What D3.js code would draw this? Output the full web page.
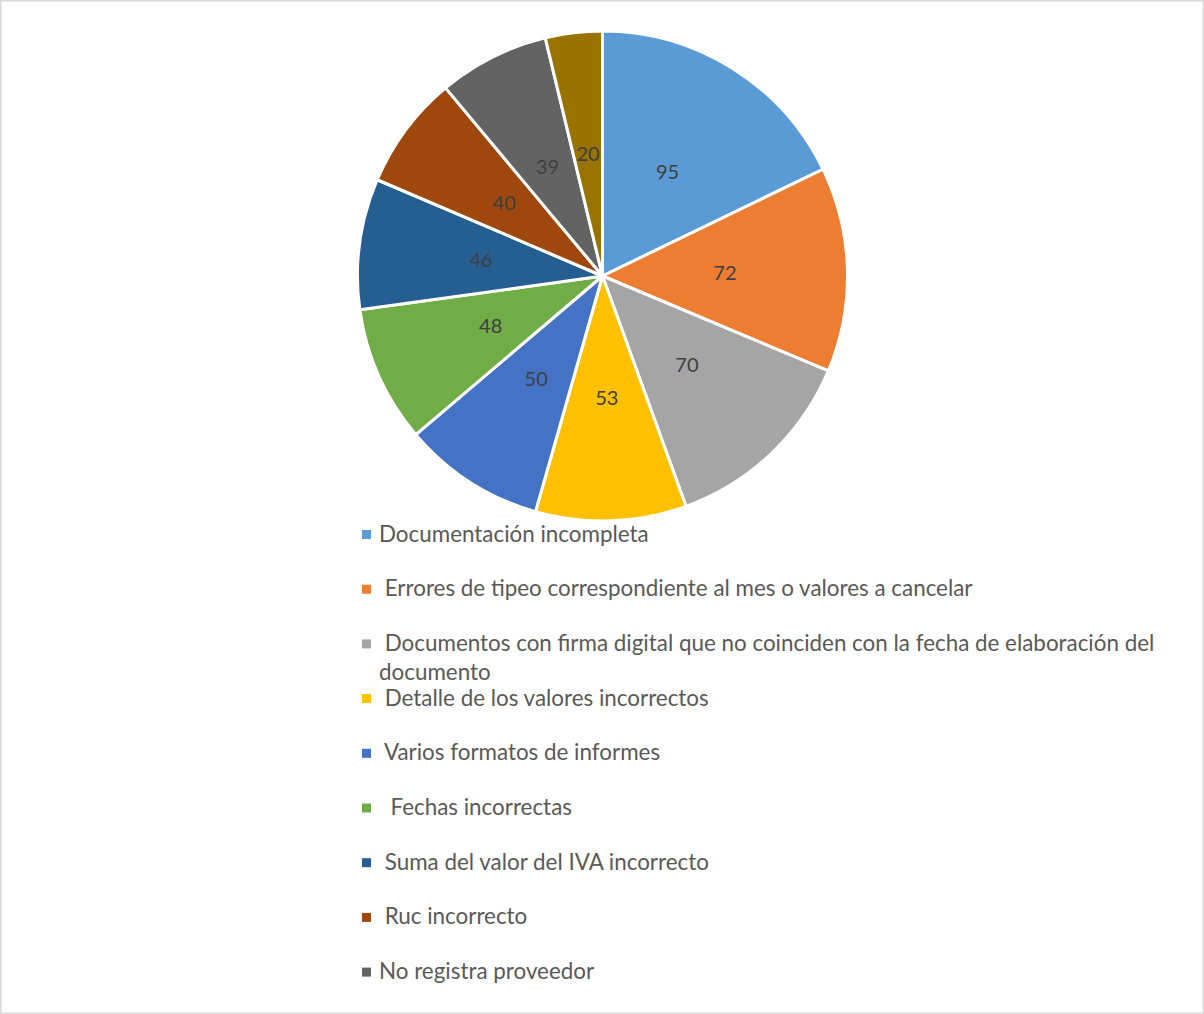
<!DOCTYPE html>
<html>
<head>
<meta charset="utf-8">
<script src="https://cdn.jsdelivr.net/npm/d3@7"></script>
<style>
  html, body { margin: 0; padding: 0; background: #fff; }
  svg text { white-space: pre; }
</style>
</head>
<body>
<svg id="chart" width="1204" height="1014"></svg>
<script>
// Frequency of each error type found in the reviewed documents
const values = [95, 72, 70, 53, 50, 48, 46, 40, 39, 20];

// Legend entries (the legend box only has room for the first nine)
const categories = [
  "Documentación incompleta",
  " Errores de tipeo correspondiente al mes o valores a cancelar",
  " Documentos con firma digital que no coinciden con la fecha de elaboración del\ndocumento",
  " Detalle de los valores incorrectos",
  " Varios formatos de informes",
  "  Fechas incorrectas",
  " Suma del valor del IVA incorrecto",
  " Ruc incorrecto",
  "No registra proveedor"
];

const sliceColors = ["#5B9BD5", "#ED7D31", "#A5A5A5", "#FFC000", "#4472C4",
                     "#70AD47", "#255E91", "#9E480E", "#636363", "#997300"];

const W = 1204, H = 1014;
const svg = d3.select("#chart");

// chart area frame
svg.append("rect")
  .attr("x", 0.75).attr("y", 0.75)
  .attr("width", W - 1.5).attr("height", H - 1.5)
  .attr("fill", "#fff")
  .attr("stroke", "#d9d9d9").attr("stroke-width", 1.5);

const cx = 602.5, cy = 276, radius = 245;
const color = d3.scaleOrdinal().domain(d3.range(values.length)).range(sliceColors);

const pie = d3.pie().sort(null).value(d => d);
const arcs = pie(values);
const arc = d3.arc().innerRadius(0).outerRadius(radius);
const labelArc = d3.arc().innerRadius(radius * 0.5).outerRadius(radius * 0.5);

const g = svg.append("g").attr("transform", `translate(${cx},${cy})`);

g.selectAll("path.slice")
  .data(arcs)
  .join("path")
  .attr("class", "slice")
  .attr("d", arc)
  .attr("fill", (d, i) => color(i))
  .attr("stroke", "#fff")
  .attr("stroke-width", 3)
  .attr("stroke-linejoin", "round");

g.selectAll("text.value")
  .data(arcs)
  .join("text")
  .attr("class", "value")
  .attr("transform", d => `translate(${labelArc.centroid(d)})`)
  .attr("text-anchor", "middle")
  .attr("dy", "0.35em")
  .attr("font-family", "Lato, 'Open Sans', sans-serif")
  .attr("font-size", 20)
  .attr("fill", "#404040")
  .text(d => d.data);

// legend
const legendTop = 541.5, rowStep = 54.7;
const legendY = d3.scaleLinear().domain([0, 1]).range([legendTop, legendTop + rowStep]);

const rows = svg.append("g").selectAll("g.row")
  .data(categories)
  .join("g")
  .attr("class", "row")
  .attr("transform", (d, i) => `translate(0,${legendY(i)})`);

rows.append("rect")
  .attr("x", 362).attr("y", -11.5)
  .attr("width", 9).attr("height", 9)
  .attr("fill", (d, i) => color(i));

rows.append("text")
  .attr("font-family", "Lato, 'Open Sans', sans-serif")
  .attr("font-size", 22.4)
  .attr("fill", "#595959")
  .each(function (d) {
    const t = d3.select(this);
    d.split("\n").forEach((line, k) => {
      t.append("tspan")
        .attr("x", 379)
        .attr("y", k * 29)
        .text(line);
    });
  });
</script>
</body>
</html>
